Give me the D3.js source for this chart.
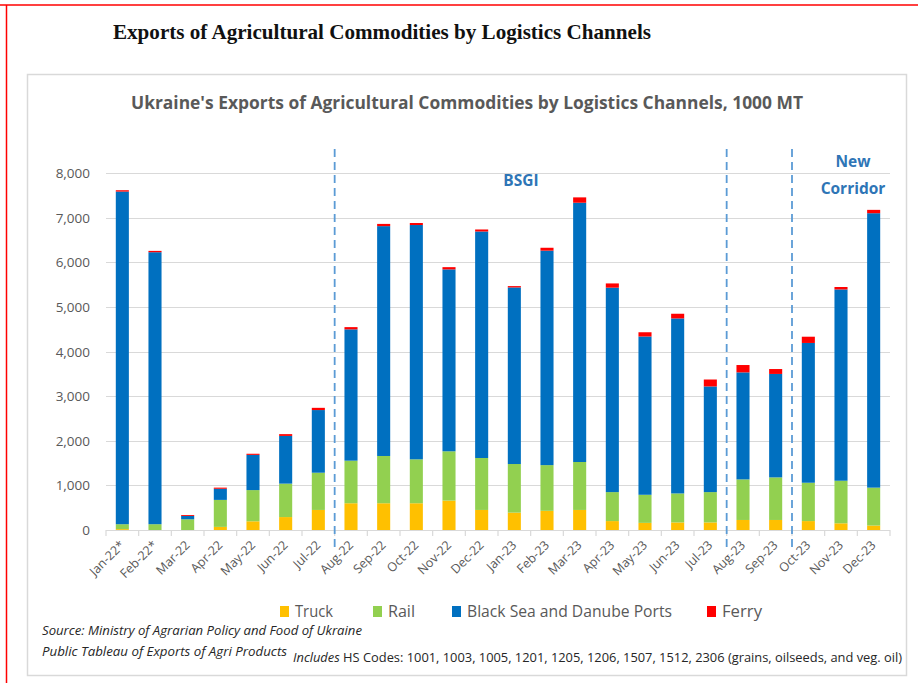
<!DOCTYPE html>
<html><head><meta charset="utf-8">
<script src="https://cdn.jsdelivr.net/npm/d3@7"></script>
<style>body{margin:0;background:#fff;} svg{display:block;}</style>
</head><body>
<svg id="c" width="918" height="683"></svg>
<script>
const months = ["Jan-22*","Feb-22*","Mar-22","Apr-22","May-22","Jun-22","Jul-22","Aug-22","Sep-22","Oct-22","Nov-22","Dec-22","Jan-23","Feb-23","Mar-23","Apr-23","May-23","Jun-23","Jul-23","Aug-23","Sep-23","Oct-23","Nov-23","Dec-23"];
const truck = [20, 0, 0, 70, 195, 290, 450, 600, 600, 600, 660, 450, 390, 430, 450, 200, 160, 170, 170, 225, 225, 200, 150, 100];
const rail  = [110, 130, 240, 605, 700, 750, 835, 955, 1060, 985, 1105, 1165, 1090, 1025, 1075, 650, 630, 650, 680, 910, 955, 860, 955, 850];
const ports = [7460, 6100, 75, 250, 790, 1070, 1405, 2945, 5155, 5255, 4080, 5080, 3960, 4810, 5815, 4585, 3550, 3925, 2370, 2400, 2320, 3135, 4290, 6155];
const ferry = [30, 30, 20, 25, 25, 40, 50, 50, 50, 45, 50, 45, 30, 65, 120, 95, 95, 105, 155, 165, 110, 140, 55, 75];
const seriesNames = ["Truck","Rail","Black Sea and Danube Ports","Ferry"];
const seriesColors = ["#ffc000","#92d050","#0070c0","#ff0000"];
const yTicks = [0,1000,2000,3000,4000,5000,6000,7000,8000];
const dividerAfter = ["Jul-22","Jul-23","Sep-23"];

const svg = d3.select("#c");
const font = "'Open Sans','Noto Sans',sans-serif";

// outer red frame
svg.append("line").attr("x1",0).attr("x2",918).attr("y1",5).attr("y2",5).attr("stroke","#ff0000").attr("stroke-width",1.5);
svg.append("line").attr("x1",6.5).attr("x2",6.5).attr("y1",5).attr("y2",683).attr("stroke","#ff0000").attr("stroke-width",1.5);

// main title
svg.append("text").attr("x",113).attr("y",39).attr("font-family","'Liberation Serif','Times New Roman',serif")
  .attr("font-weight","bold").attr("font-size",21).attr("fill","#111")
  .attr("textLength",538).attr("lengthAdjust","spacingAndGlyphs")
  .text("Exports of Agricultural Commodities by Logistics Channels");

// inner chart box
svg.append("rect").attr("x",27.5).attr("y",74.5).attr("width",879).attr("height",601)
  .attr("fill","#fff").attr("stroke","#d9d9d9").attr("stroke-width",1.5);

svg.append("text").attr("x",131).attr("y",109).attr("font-family",font).attr("font-weight","bold")
  .attr("font-size",17).attr("fill","#595959").attr("textLength",672).attr("lengthAdjust","spacingAndGlyphs")
  .text("Ukraine's Exports of Agricultural Commodities by Logistics Channels, 1000 MT");

const x = d3.scaleBand().domain(months).range([106,890]).paddingInner(0.6).paddingOuter(0.3);
const y = d3.scaleLinear().domain([0,8000]).range([530,173.3]);
const step = x.step();
const bandStart = m => x(m) - x.paddingInner()*step/2;

// gridlines
svg.append("g").selectAll("line").data(yTicks).join("line")
  .attr("x1",106).attr("x2",890).attr("y1",d=>Math.round(y(d))+0.5).attr("y2",d=>Math.round(y(d))+0.5)
  .attr("stroke","#d9d9d9").attr("stroke-width",1.2);

// y labels
svg.append("g").selectAll("text").data(yTicks).join("text")
  .attr("x",90).attr("y",d=>y(d)+5).attr("text-anchor","end").attr("font-family",font)
  .attr("font-size",13.5).attr("fill","#595959").text(d=>d3.format(",")(d));

// x tick marks
const bounds = months.map(m=>bandStart(m)).concat([890]);
svg.append("g").selectAll("line").data(bounds).join("line")
  .attr("x1",d=>d).attr("x2",d=>d).attr("y1",530).attr("y2",536).attr("stroke","#d9d9d9").attr("stroke-width",1.2);

// stacked bars
const rows = months.map((m,i)=>({month:m, s0:truck[i], s1:rail[i], s2:ports[i], s3:ferry[i]}));
const stack = d3.stack().keys(["s0","s1","s2","s3"])(rows);
svg.append("g").selectAll("g").data(stack).join("g").attr("fill",(d,i)=>seriesColors[i])
  .selectAll("rect").data(d=>d).join("rect")
  .attr("x",d=>x(d.data.month)).attr("width",x.bandwidth())
  .attr("y",d=>y(d[1])).attr("height",d=>Math.max(0,y(d[0])-y(d[1])));

// x labels
svg.append("g").selectAll("text").data(months).join("text")
  .attr("transform",m=>`translate(${x(m)+x.bandwidth()/2+3},${546}) rotate(-45)`)
  .attr("text-anchor","end").attr("font-family",font).attr("font-size",12.5).attr("fill","#595959").text(m=>m);

// dashed dividers
dividerAfter.forEach(m=>{
  const xv = bandStart(m)+step;
  svg.append("line").attr("x1",xv).attr("x2",xv).attr("y1",149).attr("y2",549)
    .attr("stroke","#5b9bd5").attr("stroke-width",1.8).attr("stroke-dasharray","8,5");
});

// annotations
svg.append("text").attr("x",521).attr("y",186).attr("text-anchor","middle").attr("font-family",font)
  .attr("font-weight","bold").attr("font-size",15.5).attr("fill","#2e75b6").text("BSGI");
svg.append("text").attr("x",853).attr("y",167).attr("text-anchor","middle").attr("font-family",font)
  .attr("font-weight","bold").attr("font-size",15.5).attr("fill","#2e75b6").text("New");
svg.append("text").attr("x",853).attr("y",194).attr("text-anchor","middle").attr("font-family",font)
  .attr("font-weight","bold").attr("font-size",15.5).attr("fill","#2e75b6").text("Corridor");

// legend
const legX = [280, 373, 452, 707];
const legW = [38, 27, 205, 40];
seriesNames.forEach((n,i)=>{
  svg.append("rect").attr("x",legX[i]).attr("y",606).attr("width",9).attr("height",11).attr("fill",seriesColors[i]);
  svg.append("text").attr("x",legX[i]+15).attr("y",617).attr("font-family",font).attr("font-size",15.5)
    .attr("fill","#595959").attr("textLength",legW[i]).attr("lengthAdjust","spacingAndGlyphs").text(n);
});

// source notes
svg.append("text").attr("x",42).attr("y",635).attr("font-family",font).attr("font-style","italic")
  .attr("font-size",12).attr("fill","#262626").attr("textLength",320).attr("lengthAdjust","spacingAndGlyphs")
  .text("Source: Ministry of Agrarian Policy and Food of Ukraine");
svg.append("text").attr("x",42).attr("y",656).attr("font-family",font).attr("font-style","italic")
  .attr("font-size",12).attr("fill","#262626").attr("textLength",245).attr("lengthAdjust","spacingAndGlyphs")
  .text("Public Tableau of Exports of Agri Products");
const inc = svg.append("text").attr("x",293).attr("y",662).attr("font-family",font)
  .attr("font-size",12).attr("fill","#262626").attr("textLength",609).attr("lengthAdjust","spacingAndGlyphs");
inc.append("tspan").attr("font-style","italic").text("Includes");
inc.append("tspan").text(" HS Codes: 1001, 1003, 1005, 1201, 1205, 1206, 1507, 1512, 2306  (grains, oilseeds, and veg. oil)");
</script>
</body></html>
